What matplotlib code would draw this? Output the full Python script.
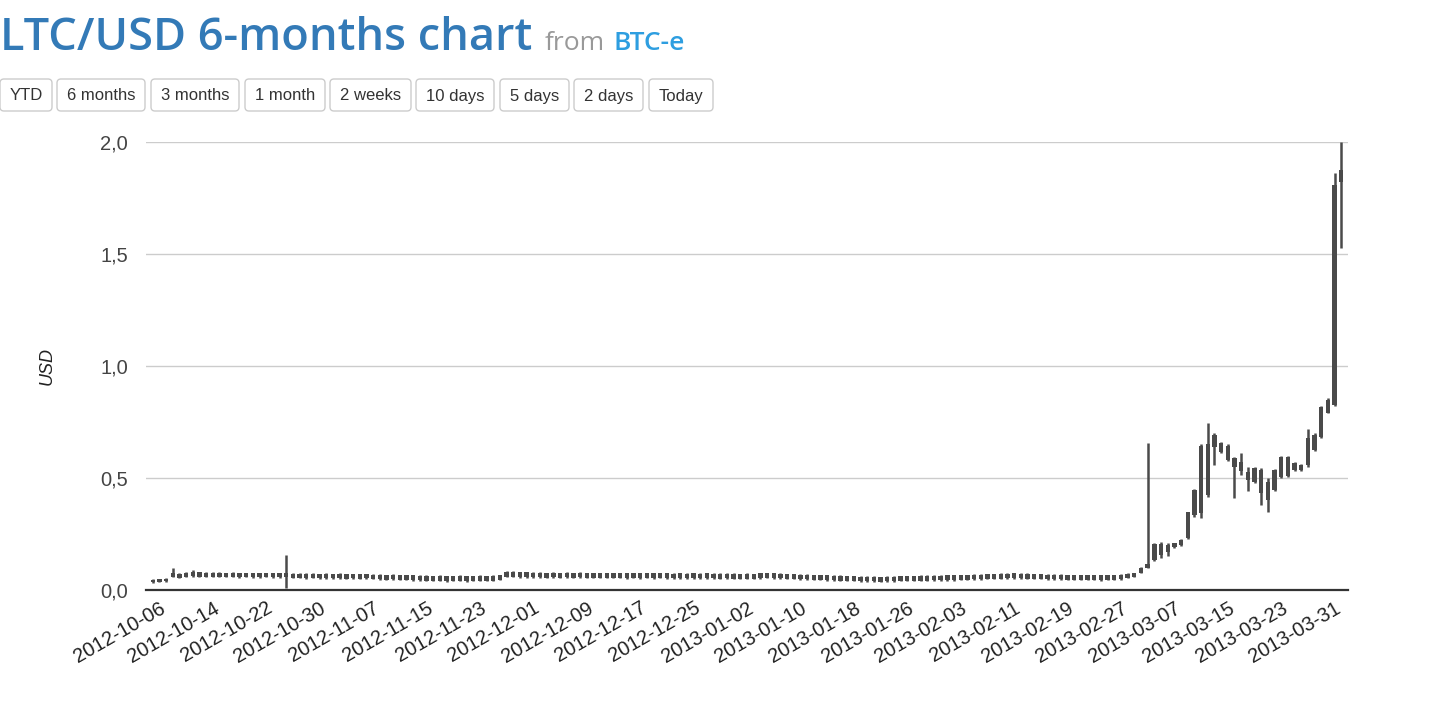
import matplotlib
matplotlib.use("Agg")
import matplotlib.pyplot as plt
import matplotlib.dates as mdates
from matplotlib.patches import FancyBboxPatch
import pandas as pd

# daily candles, 2012-10-05 .. 2013-04-01
dates = pd.date_range("2012-10-05", "2013-04-01", freq="D")

open_oct = [0.035, 0.037, 0.039, 0.058, 0.054, 0.059, 0.061, 0.060, 0.059, 0.060, 0.058, 0.059, 0.058, 0.057,
            0.058, 0.056, 0.057, 0.058, 0.056, 0.057, 0.056, 0.055, 0.054, 0.053, 0.054, 0.052, 0.053]
close_oct = [0.046, 0.048, 0.050, 0.077, 0.072, 0.078, 0.080, 0.079, 0.078, 0.077, 0.077, 0.076, 0.077, 0.076,
             0.075, 0.076, 0.074, 0.075, 0.076, 0.075, 0.075, 0.073, 0.073, 0.072, 0.073, 0.071, 0.072]
high_oct = [0.048, 0.050, 0.052, 0.097, 0.075, 0.080, 0.088, 0.081, 0.080, 0.079, 0.079, 0.078, 0.079, 0.078,
            0.077, 0.078, 0.076, 0.077, 0.078, 0.077, 0.155, 0.075, 0.075, 0.074, 0.075, 0.073, 0.074]
low_oct = [0.033, 0.035, 0.037, 0.056, 0.052, 0.057, 0.059, 0.058, 0.057, 0.058, 0.056, 0.057, 0.056, 0.055,
           0.056, 0.054, 0.055, 0.056, 0.054, 0.055, 0.010, 0.053, 0.052, 0.051, 0.052, 0.050, 0.051]

open_nov = [0.052, 0.053, 0.051, 0.052, 0.051, 0.052, 0.050, 0.047, 0.046, 0.047, 0.045, 0.046, 0.044, 0.043, 0.041,
            0.040, 0.041, 0.039, 0.040, 0.041, 0.039, 0.040, 0.041, 0.040, 0.042, 0.045, 0.058, 0.058, 0.057, 0.056]
close_nov = [0.071, 0.072, 0.070, 0.071, 0.070, 0.071, 0.069, 0.068, 0.067, 0.068, 0.066, 0.067, 0.065, 0.064, 0.063,
             0.062, 0.063, 0.061, 0.062, 0.063, 0.061, 0.062, 0.063, 0.062, 0.064, 0.067, 0.080, 0.082, 0.080, 0.079]
high_nov = [0.073, 0.074, 0.072, 0.073, 0.072, 0.073, 0.071, 0.070, 0.069, 0.070, 0.068, 0.069, 0.067, 0.066, 0.065,
            0.064, 0.065, 0.063, 0.064, 0.065, 0.063, 0.064, 0.065, 0.064, 0.066, 0.069, 0.086, 0.084, 0.082, 0.081]
low_nov = [0.050, 0.051, 0.049, 0.050, 0.049, 0.050, 0.048, 0.045, 0.044, 0.045, 0.043, 0.044, 0.042, 0.041, 0.039,
           0.038, 0.039, 0.037, 0.038, 0.039, 0.037, 0.038, 0.039, 0.038, 0.040, 0.043, 0.056, 0.056, 0.055, 0.054]

open_dec = [0.056, 0.057, 0.055, 0.056, 0.055, 0.056, 0.055, 0.056, 0.055, 0.054, 0.055, 0.054, 0.055, 0.054, 0.053, 0.054,
            0.053, 0.054, 0.053, 0.054, 0.053, 0.052, 0.053, 0.052, 0.053, 0.052, 0.053, 0.052, 0.051, 0.052, 0.051]
close_dec = [0.077, 0.078, 0.076, 0.077, 0.076, 0.077, 0.076, 0.077, 0.076, 0.075, 0.076, 0.075, 0.076, 0.075, 0.074, 0.075,
             0.074, 0.075, 0.074, 0.075, 0.074, 0.073, 0.074, 0.073, 0.074, 0.073, 0.074, 0.073, 0.072, 0.073, 0.072]
high_dec = [0.079, 0.080, 0.078, 0.079, 0.078, 0.079, 0.078, 0.079, 0.078, 0.077, 0.078, 0.077, 0.078, 0.077, 0.076, 0.077,
            0.076, 0.077, 0.076, 0.077, 0.076, 0.075, 0.076, 0.075, 0.076, 0.075, 0.076, 0.075, 0.074, 0.075, 0.074]
low_dec = [0.054, 0.055, 0.053, 0.054, 0.053, 0.054, 0.053, 0.054, 0.053, 0.052, 0.053, 0.052, 0.053, 0.052, 0.051, 0.052,
           0.051, 0.052, 0.051, 0.052, 0.051, 0.050, 0.051, 0.050, 0.051, 0.050, 0.051, 0.050, 0.049, 0.050, 0.049]

open_jan = [0.050, 0.051, 0.050, 0.053, 0.054, 0.053, 0.052, 0.050, 0.049, 0.048, 0.047, 0.046, 0.045, 0.044, 0.043, 0.042,
            0.041, 0.040, 0.039, 0.038, 0.038, 0.037, 0.038, 0.039, 0.040, 0.041, 0.041, 0.042, 0.042, 0.043, 0.043]
close_jan = [0.071, 0.072, 0.071, 0.075, 0.076, 0.075, 0.073, 0.071, 0.070, 0.069, 0.068, 0.067, 0.066, 0.065, 0.064, 0.063,
             0.062, 0.061, 0.060, 0.059, 0.059, 0.058, 0.059, 0.060, 0.061, 0.062, 0.062, 0.063, 0.063, 0.064, 0.064]
high_jan = [0.073, 0.074, 0.073, 0.077, 0.078, 0.077, 0.075, 0.073, 0.072, 0.071, 0.070, 0.069, 0.068, 0.067, 0.066, 0.065,
            0.064, 0.063, 0.062, 0.061, 0.061, 0.060, 0.061, 0.062, 0.063, 0.064, 0.064, 0.065, 0.065, 0.066, 0.066]
low_jan = [0.048, 0.049, 0.048, 0.051, 0.052, 0.051, 0.050, 0.048, 0.047, 0.046, 0.045, 0.044, 0.043, 0.042, 0.041, 0.040,
           0.039, 0.038, 0.037, 0.036, 0.036, 0.035, 0.036, 0.037, 0.038, 0.039, 0.039, 0.040, 0.040, 0.041, 0.041]

open_feb = [0.044, 0.044, 0.045, 0.046, 0.047, 0.048, 0.049, 0.050, 0.051, 0.052, 0.053, 0.052, 0.051, 0.050,
            0.049, 0.048, 0.047, 0.047, 0.046, 0.046, 0.045, 0.045, 0.045, 0.044, 0.045, 0.046, 0.048, 0.054]
close_feb = [0.065, 0.065, 0.066, 0.067, 0.068, 0.069, 0.070, 0.071, 0.072, 0.073, 0.074, 0.073, 0.072, 0.071,
             0.070, 0.069, 0.068, 0.068, 0.067, 0.067, 0.066, 0.066, 0.066, 0.065, 0.066, 0.067, 0.069, 0.073]
high_feb = [0.067, 0.067, 0.068, 0.069, 0.070, 0.071, 0.072, 0.073, 0.074, 0.075, 0.076, 0.075, 0.074, 0.073,
            0.072, 0.071, 0.070, 0.070, 0.069, 0.069, 0.068, 0.068, 0.068, 0.067, 0.068, 0.069, 0.071, 0.076]
low_feb = [0.042, 0.042, 0.043, 0.044, 0.045, 0.046, 0.047, 0.048, 0.049, 0.050, 0.051, 0.050, 0.049, 0.048,
           0.047, 0.046, 0.045, 0.045, 0.044, 0.044, 0.043, 0.043, 0.043, 0.042, 0.043, 0.044, 0.046, 0.052]

# March 1 .. April 1
open_mar = [0.058, 0.078, 0.100, 0.135, 0.155, 0.170, 0.190, 0.200, 0.230, 0.335, 0.345, 0.650, 0.640, 0.656, 0.645, 0.590,
            0.570, 0.527, 0.545, 0.535, 0.480, 0.446, 0.504, 0.594, 0.567, 0.535, 0.558, 0.690, 0.683, 0.790, 0.826, 1.820]
close_mar = [0.075, 0.100, 0.118, 0.205, 0.205, 0.200, 0.208, 0.222, 0.348, 0.445, 0.645, 0.425, 0.690, 0.617, 0.580, 0.550,
             0.530, 0.490, 0.480, 0.433, 0.400, 0.535, 0.594, 0.510, 0.535, 0.560, 0.680, 0.625, 0.817, 0.850, 1.810, 1.875]
high_mar = [0.077, 0.102, 0.656, 0.212, 0.215, 0.212, 0.212, 0.226, 0.350, 0.450, 0.650, 0.745, 0.700, 0.660, 0.650, 0.594,
            0.610, 0.550, 0.548, 0.545, 0.500, 0.538, 0.597, 0.597, 0.570, 0.562, 0.720, 0.700, 0.820, 0.855, 1.860, 2.000]
low_mar = [0.056, 0.076, 0.098, 0.128, 0.145, 0.150, 0.186, 0.198, 0.228, 0.325, 0.320, 0.415, 0.558, 0.612, 0.575, 0.410,
           0.513, 0.440, 0.478, 0.380, 0.350, 0.444, 0.500, 0.505, 0.532, 0.532, 0.550, 0.620, 0.680, 0.788, 0.820, 1.527]

opens = open_oct + open_nov + open_dec + open_jan + open_feb + open_mar
closes = close_oct + close_nov + close_dec + close_jan + close_feb + close_mar
highs = high_oct + high_nov + high_dec + high_jan + high_feb + high_mar
lows = low_oct + low_nov + low_dec + low_jan + low_feb + low_mar

tick_dates = pd.date_range("2012-10-06", "2013-03-31", freq="8D")
y_ticks = [0.0, 0.5, 1.0, 1.5, 2.0]
y_labels = ["0,0", "0,5", "1,0", "1,5", "2,0"]
buttons = ["YTD", "6 months", "3 months", "1 month", "2 weeks", "10 days", "5 days", "2 days", "Today"]
button_x = [0, 57, 151, 245, 330, 416, 500, 574, 649]
button_w = [52, 88, 88, 80, 81, 78, 69, 69, 64]

W, H = 1444, 718
plt.rcParams["font.family"] = ["Liberation Sans", "DejaVu Sans"]
fig = plt.figure(figsize=(W / 100, H / 100), dpi=100)

# overlay in pixel coordinates for the page header
ov = fig.add_axes([0, 0, 1, 1])
ov.set_xlim(0, W)
ov.set_ylim(H, 0)
ov.axis("off")
ov.text(0, 50, "LTC/USD 6-months chart", fontsize=32.5, color="#337ab7", family="Open Sans",
        fontweight="semibold", va="baseline", ha="left")
ov.text(545, 50, "from", fontsize=19, color="#999999", family="Open Sans", va="baseline")
ov.text(613, 50, "BTC-e", fontsize=19, color="#2e9ee0", family="Open Sans", fontweight="semibold",
        va="baseline")
r = 4
for lab, bx, bw in zip(buttons, button_x, button_w):
    ov.add_patch(FancyBboxPatch((bx + r, 79 + r), bw - 2 * r, 32 - 2 * r,
                                boxstyle=f"round,pad={r}", fc="white", ec="#cccccc", lw=1))
    ov.text(bx + bw / 2, 96, lab, fontsize=12, color="#333333", ha="center", va="center")

ax = fig.add_axes([146 / W, 1 - 590 / H, (1348 - 146) / W, (590 - 142) / H])
x = mdates.date2num(dates)
body_lo = [min(o, c) for o, c in zip(opens, closes)]
body_h = [abs(c - o) for o, c in zip(opens, closes)]
color = "#4a4a4a"
ax.vlines(x, lows, highs, color=color, lw=1.8, zorder=3)
ax.bar(x, body_h, bottom=body_lo, width=0.65, color=color, zorder=3)

ax.set_xlim(mdates.date2num(pd.Timestamp("2012-10-04")), mdates.date2num(pd.Timestamp("2013-04-02")))
ax.set_ylim(0, 2.0)
ax.set_yticks(y_ticks)
ax.set_yticklabels(y_labels)
ax.set_xticks(mdates.date2num(tick_dates))
ax.set_xticklabels([d.strftime("%Y-%m-%d") for d in tick_dates], rotation=30, ha="right",
                   rotation_mode="anchor")
ax.tick_params(axis="both", length=0, labelsize=14.5)
ax.tick_params(axis="y", pad=13, labelcolor="#444444")
ax.tick_params(axis="x", pad=6, labelcolor="#222222")
ax.grid(axis="y", color="#cccccc", lw=1)
ax.set_axisbelow(True)
for s in ["top", "right", "left"]:
    ax.spines[s].set_visible(False)
ax.spines["bottom"].set_color("#333333")
ax.spines["bottom"].set_linewidth(1.6)
ax.spines["bottom"].set_zorder(4)
ax.set_ylabel("USD", fontsize=13, style="italic", color="#222222", labelpad=32)

fig.savefig("out.png", dpi=100)
